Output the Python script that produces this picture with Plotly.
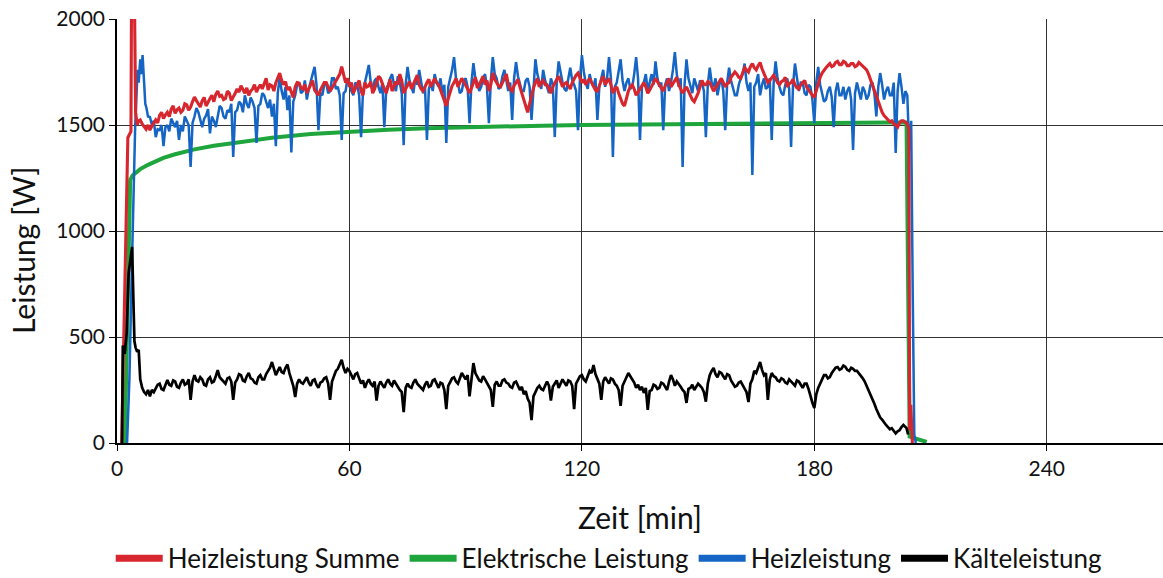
import plotly.graph_objects as go

# ---------------- data ----------------
# Heizleistung Summe (red) - start-up transient
red_start_t = [1.2, 2.0, 2.8, 3.2, 3.6, 3.8, 4.4, 4.8, 5.2, 5.6, 6.0, 6.5, 7.0, 7.5, 8.0, 8.5, 9.0, 9.5]
red_start_v = [0, 720, 1440, 1455, 1470, 2300, 2300, 1560, 1500, 1520, 1524, 1505, 1490, 1480, 1500, 1476, 1495, 1510]
# red, every half minute from 10 to 204 min
red_main = [
    1524, 1510, 1545, 1560, 1530, 1548, 1560, 1540, 1575, 1590,
    1555, 1572, 1580, 1560, 1570, 1600, 1595, 1570, 1585, 1610,
    1632, 1615, 1600, 1585, 1615, 1630, 1590, 1612, 1625, 1640,
    1610, 1645, 1660, 1635, 1640, 1620, 1625, 1660, 1650, 1615,
    1630, 1650, 1670, 1655, 1685, 1665, 1650, 1675, 1640, 1660,
    1670, 1690, 1655, 1675, 1690, 1670, 1700, 1720, 1665, 1690,
    1685, 1660, 1700, 1725, 1745, 1710, 1690, 1705, 1665, 1680,
    1650, 1630, 1680, 1700, 1698, 1675, 1670, 1690, 1650, 1670,
    1690, 1710, 1665, 1650, 1640, 1665, 1680, 1700, 1700, 1680,
    1660, 1675, 1690, 1705, 1720, 1740, 1775, 1730, 1700, 1720,
    1680, 1700, 1650, 1670, 1690, 1710, 1660, 1640, 1700, 1680,
    1685, 1705, 1650, 1670, 1700, 1730, 1720, 1690, 1670, 1650,
    1690, 1715, 1660, 1685, 1705, 1690, 1740, 1710, 1650, 1670,
    1690, 1705, 1670, 1690, 1710, 1735, 1690, 1670, 1660, 1685,
    1700, 1715, 1680, 1700, 1720, 1700, 1690, 1665, 1640, 1610,
    1590, 1625, 1660, 1685, 1700, 1720, 1680, 1700, 1720, 1705,
    1690, 1670, 1650, 1680, 1700, 1725, 1675, 1690, 1710, 1730,
    1690, 1710, 1660, 1690, 1745, 1715, 1700, 1685, 1680, 1705,
    1720, 1740, 1690, 1670, 1660, 1685, 1700, 1715, 1680, 1650,
    1620, 1590, 1560, 1600, 1640, 1675, 1700, 1720, 1680, 1700,
    1710, 1690, 1690, 1670, 1650, 1680, 1700, 1715, 1730, 1705,
    1680, 1695, 1700, 1685, 1670, 1700, 1720, 1735, 1745, 1720,
    1700, 1715, 1690, 1705, 1720, 1700, 1680, 1665, 1660, 1690,
    1710, 1730, 1690, 1705, 1720, 1690, 1650, 1670, 1680, 1650,
    1620, 1600, 1590, 1625, 1660, 1680, 1690, 1670, 1640, 1655,
    1670, 1690, 1700, 1680, 1650, 1665, 1680, 1700, 1720, 1705,
    1690, 1670, 1660, 1685, 1700, 1720, 1680, 1695, 1710, 1725,
    1690, 1670, 1650, 1665, 1680, 1660, 1640, 1620, 1610, 1630,
    1650, 1680, 1710, 1690, 1690, 1705, 1700, 1680, 1660, 1675,
    1690, 1710, 1720, 1700, 1680, 1695, 1700, 1725, 1740, 1750,
    1740, 1725, 1720, 1750, 1770, 1760, 1750, 1775, 1790, 1770,
    1760, 1780, 1795, 1765, 1740, 1720, 1700, 1710, 1720, 1735,
    1720, 1700, 1690, 1705, 1710, 1725, 1680, 1695, 1700, 1715,
    1690, 1675, 1670, 1690, 1700, 1710, 1680, 1665, 1650, 1640,
    1630, 1660, 1700, 1725, 1745, 1760, 1770, 1780, 1790, 1775,
    1780, 1795, 1800, 1785, 1785, 1800, 1795, 1780, 1780, 1790,
    1790, 1775, 1780, 1795, 1785, 1775, 1770, 1760, 1740, 1715,
    1690, 1665, 1640, 1610, 1580, 1560, 1545, 1535, 1525, 1515,
    1520, 1505, 1500, 1490, 1510, 1520, 1520, 1510,
    1505,
]
red_end_t = [204.4, 204.6, 204.9, 205.3]
red_end_v = [1480, 60, 180, 0]

# Heizleistung (blue)
blue_start_t = [2.6, 3.2, 3.8, 4.3, 4.7, 5.0, 5.3, 5.6, 6.0, 6.3, 6.6, 7.0, 7.3, 7.6, 8.0, 8.5, 9.0, 9.5]
blue_start_v = [0, 300, 800, 1250, 1500, 1620, 1760, 1700, 1810, 1740, 1830, 1700, 1600, 1580, 1540, 1538, 1500, 1520]
blue_main = [
    1443, 1480, 1476, 1500, 1400, 1490, 1500, 1470, 1530, 1510,
    1490, 1520, 1430, 1500, 1470, 1540, 1520, 1500, 1302, 1510,
    1540, 1580, 1560, 1520, 1490, 1530, 1545, 1575, 1460, 1540,
    1520, 1490, 1550, 1590, 1580, 1540, 1530, 1570, 1560, 1600,
    1349, 1560, 1570, 1610, 1600, 1560, 1640, 1600, 1580, 1630,
    1610, 1580, 1415, 1590, 1600, 1650, 1640, 1610, 1580, 1620,
    1540, 1600, 1400, 1650, 1726, 1660, 1620, 1680, 1570, 1640,
    1370, 1610, 1640, 1690, 1700, 1650, 1660, 1710, 1620, 1670,
    1700, 1740, 1774, 1690, 1476, 1650, 1640, 1690, 1700, 1650,
    1660, 1720, 1720, 1670, 1680, 1640, 1430, 1650, 1660, 1720,
    1700, 1660, 1640, 1700, 1690, 1640, 1443, 1660, 1700, 1740,
    1783, 1700, 1660, 1710, 1720, 1680, 1650, 1700, 1490, 1670,
    1690, 1720, 1740, 1690, 1660, 1730, 1700, 1650, 1405, 1690,
    1774, 1710, 1680, 1650, 1720, 1690, 1760, 1700, 1650, 1680,
    1430, 1670, 1700, 1660, 1740, 1700, 1680, 1720, 1650, 1690,
    1415, 1680, 1720, 1760, 1820, 1720, 1700, 1650, 1660, 1710,
    1720, 1680, 1509, 1700, 1792, 1720, 1700, 1660, 1680, 1720,
    1740, 1680, 1509, 1710, 1820, 1740, 1720, 1670, 1680, 1730,
    1760, 1700, 1660, 1700, 1524, 1720, 1797, 1730, 1700, 1660,
    1660, 1710, 1720, 1680, 1524, 1700, 1810, 1740, 1700, 1670,
    1760, 1710, 1680, 1650, 1720, 1690, 1443, 1700, 1800, 1740,
    1700, 1670, 1660, 1720, 1770, 1710, 1690, 1660, 1476, 1720,
    1830, 1750, 1700, 1670, 1740, 1700, 1680, 1720, 1524, 1680,
    1720, 1760, 1680, 1720, 1820, 1720, 1349, 1680, 1700, 1750,
    1810, 1710, 1660, 1700, 1720, 1670, 1680, 1740, 1820, 1720,
    1430, 1680, 1700, 1740, 1660, 1700, 1740, 1690, 1800, 1720,
    1680, 1700, 1476, 1690, 1720, 1660, 1700, 1760, 1844, 1740,
    1680, 1720, 1302, 1690, 1810, 1720, 1680, 1650, 1720, 1690,
    1660, 1710, 1700, 1660, 1443, 1690, 1770, 1700, 1680, 1720,
    1640, 1690, 1720, 1660, 1476, 1700, 1770, 1710, 1680, 1640,
    1640, 1690, 1720, 1740, 1790, 1700, 1660, 1700, 1264, 1680,
    1700, 1740, 1640, 1690, 1720, 1670, 1680, 1720, 1430, 1700,
    1800, 1720, 1680, 1650, 1640, 1690, 1720, 1670, 1396, 1690,
    1790, 1710, 1660, 1700, 1700, 1650, 1640, 1690, 1680, 1620,
    1509, 1700, 1774, 1690, 1650, 1610, 1620, 1660, 1680, 1630,
    1490, 1660, 1700, 1640, 1640, 1680, 1620, 1660, 1680, 1620,
    1382, 1650, 1700, 1660, 1620, 1680, 1660, 1620, 1640, 1690,
    1700, 1650, 1540, 1680, 1745, 1690, 1620, 1660, 1680, 1640,
    1640, 1700, 1368, 1660, 1745, 1680, 1600, 1660,
    1640,
]
blue_end_t = [204.5, 205.0, 205.4, 205.8, 206.2]
blue_end_v = [1380, 1520, 700, 40, 0]

# Elektrische Leistung (green)
green_t = [2.0, 2.6, 3.0, 3.4, 4, 5, 6, 8, 10, 12, 15, 20, 25, 30, 40, 50, 60, 70, 80, 90,
           100, 110, 120, 140, 160, 180, 200, 203.8, 204.2, 204.6, 206, 207.5, 209]
green_v = [0, 600, 1050, 1240, 1262, 1280, 1292, 1312, 1330, 1345, 1362, 1385, 1402, 1416, 1440, 1458, 1470, 1478, 1485, 1490,
           1494, 1497, 1500, 1504, 1507, 1510, 1512, 1512, 800, 30, 22, 15, 5]

# Kälteleistung (black)
black_start_t = [1.3, 1.5, 2.0, 2.5, 3.0, 3.5, 3.9, 4.2, 4.5, 4.8, 5.2, 5.6, 6.0, 6.5, 7.0, 7.5, 8.0, 8.5, 9.0, 9.5]
black_start_v = [0, 460, 420, 520, 800, 880, 925, 700, 480, 450, 430, 440, 300, 260, 240, 230, 250, 220, 250, 240]
# black, every half minute from 10 to 203 min
black_main = [
    260, 275, 280, 255, 250, 270, 297, 275, 270, 295,
    290, 265, 260, 285, 300, 275, 280, 300, 203, 290,
    320, 295, 290, 310, 300, 275, 270, 300, 310, 285,
    290, 315, 344, 310, 300, 290, 280, 305, 310, 290,
    203, 285, 300, 325, 320, 295, 290, 315, 330, 305,
    300, 285, 280, 310, 320, 300, 300, 325, 340, 355,
    382, 345, 320, 340, 358, 335, 330, 355, 370, 330,
    300, 270, 217, 280, 300, 285, 280, 295, 310, 285,
    270, 295, 300, 275, 260, 285, 290, 305, 310, 280,
    203, 290, 320, 340, 350, 370, 392, 355, 330, 350,
    340, 320, 300, 325, 330, 305, 280, 295, 260, 285,
    300, 280, 270, 290, 200, 270, 290, 275, 260, 285,
    300, 280, 270, 295, 280, 260, 250, 240, 146, 260,
    280, 265, 260, 285, 300, 280, 270, 260, 250, 275,
    290, 265, 270, 295, 300, 280, 260, 285, 280, 250,
    160, 270, 290, 305, 310, 290, 280, 310, 330, 315,
    300, 320, 220, 300, 377, 330, 310, 295, 290, 315,
    300, 285, 270, 250, 170, 275, 290, 270, 270, 295,
    300, 285, 280, 265, 260, 285, 290, 270, 250, 265,
    230, 245, 210, 190, 108, 220, 240, 260, 270, 255,
    250, 275, 290, 270, 200, 265, 280, 295, 260, 280,
    300, 285, 270, 295, 290, 270, 160, 280, 300, 315,
    320, 300, 290, 315, 340, 330, 368, 325, 300, 280,
    203, 290, 310, 295, 280, 305, 300, 280, 270, 250,
    175, 270, 290, 310, 330, 315, 300, 285, 260, 275,
    250, 265, 236, 260, 156, 245, 250, 275, 270, 255,
    260, 285, 280, 265, 250, 290, 320, 300, 270, 290,
    280, 265, 250, 240, 189, 255, 260, 275, 250, 265,
    280, 270, 260, 240, 195, 280, 320, 340, 354, 325,
    310, 335, 330, 315, 300, 325, 320, 295, 280, 265,
    270, 285, 290, 275, 260, 240, 193, 280, 300, 340,
    330, 355, 382, 345, 320, 330, 203, 300, 330, 315,
    310, 295, 290, 305, 300, 285, 280, 300, 290, 275,
    270, 295, 290, 275, 260, 280, 280, 255, 217, 190,
    165, 230, 260, 285, 300, 320, 320, 305, 311, 330,
    340, 355, 358, 345, 350, 365, 360, 345, 340, 355,
    350, 340, 340, 330, 320, 305, 290, 270, 250, 230,
    210, 185, 160, 140, 120, 110, 95, 85, 75, 65,
    70, 60, 45, 55, 60, 75,
    85,
]
black_end_t = [203.8, 204.2]
black_end_v = [70, 40]

x_ticks = [0, 60, 120, 180, 240]
y_ticks = [0, 500, 1000, 1500, 2000]

# half-minute time grids for the dense part
t_red = [10 + 0.5 * i for i in range(len(red_main))]
t_blue = [10 + 0.5 * i for i in range(len(blue_main))]
t_black = [10 + 0.5 * i for i in range(len(black_main))]

# ---------------- figure ----------------
RED = "#d8262e"
GREEN = "#1ea53c"
BLUE = "#1565c4"
BLACK = "#000000"

fig = go.Figure()
fig.add_trace(go.Scatter(x=green_t, y=green_v, mode="lines", name="Elektrische Leistung",
                         line=dict(color=GREEN, width=4), showlegend=False))
fig.add_trace(go.Scatter(x=blue_start_t + t_blue + blue_end_t, y=blue_start_v + blue_main + blue_end_v,
                         mode="lines", name="Heizleistung", line=dict(color=BLUE, width=2.5), showlegend=False))
fig.add_trace(go.Scatter(x=red_start_t + t_red + red_end_t, y=red_start_v + red_main + red_end_v,
                         mode="lines", name="Heizleistung Summe", line=dict(color=RED, width=3.1), showlegend=False))
fig.add_trace(go.Scatter(x=black_start_t + t_black + black_end_t, y=black_start_v + black_main + black_end_v,
                         mode="lines", name="Kälteleistung", line=dict(color=BLACK, width=2.7), showlegend=False))

# legend entries (thick keys as in the reference)
for name, col in [("Heizleistung Summe", RED), ("Elektrische Leistung", GREEN),
                  ("Heizleistung", BLUE), ("Kälteleistung", BLACK)]:
    fig.add_trace(go.Scatter(x=[None], y=[None], mode="lines", name=name,
                             line=dict(color=col, width=7), showlegend=True))

fig.update_layout(
    width=1163, height=578,
    margin=dict(l=117, r=0, t=19, b=135, autoexpand=False),
    paper_bgcolor="white", plot_bgcolor="white",
    font=dict(family="Lato", color="#111111"),
    showlegend=True,
    legend=dict(orientation="h", x=-0.006, xanchor="left", y=-0.3275, yanchor="bottom",
                font=dict(size=26), bgcolor="rgba(0,0,0,0)", itemwidth=47, traceorder="normal"),
    annotations=[dict(text="Leistung [W]", textangle=-90, xref="paper", yref="paper",
                      x=-0.09, y=0.455, xanchor="center", yanchor="middle", showarrow=False,
                      font=dict(size=30, family="Lato", color="#111111"))],
)
fig.update_xaxes(
    range=[0, 270], tickvals=x_ticks, showgrid=True, gridcolor="#333333", gridwidth=1.3,
    showline=True, linecolor="black", linewidth=1.5, ticks="outside", ticklen=6, tickcolor="black",
    tickfont=dict(size=21), zeroline=False, automargin=False,
    title=dict(text="Zeit [min]", font=dict(size=30), standoff=29),
)
fig.update_yaxes(
    range=[0, 2000], tickvals=y_ticks, showgrid=True, gridcolor="#333333", gridwidth=1.3,
    showline=True, linecolor="black", linewidth=1.5, ticks="outside", ticklen=6, tickcolor="black",
    tickfont=dict(size=21), zeroline=False, automargin=False,
)

fig.write_html("out.html")
